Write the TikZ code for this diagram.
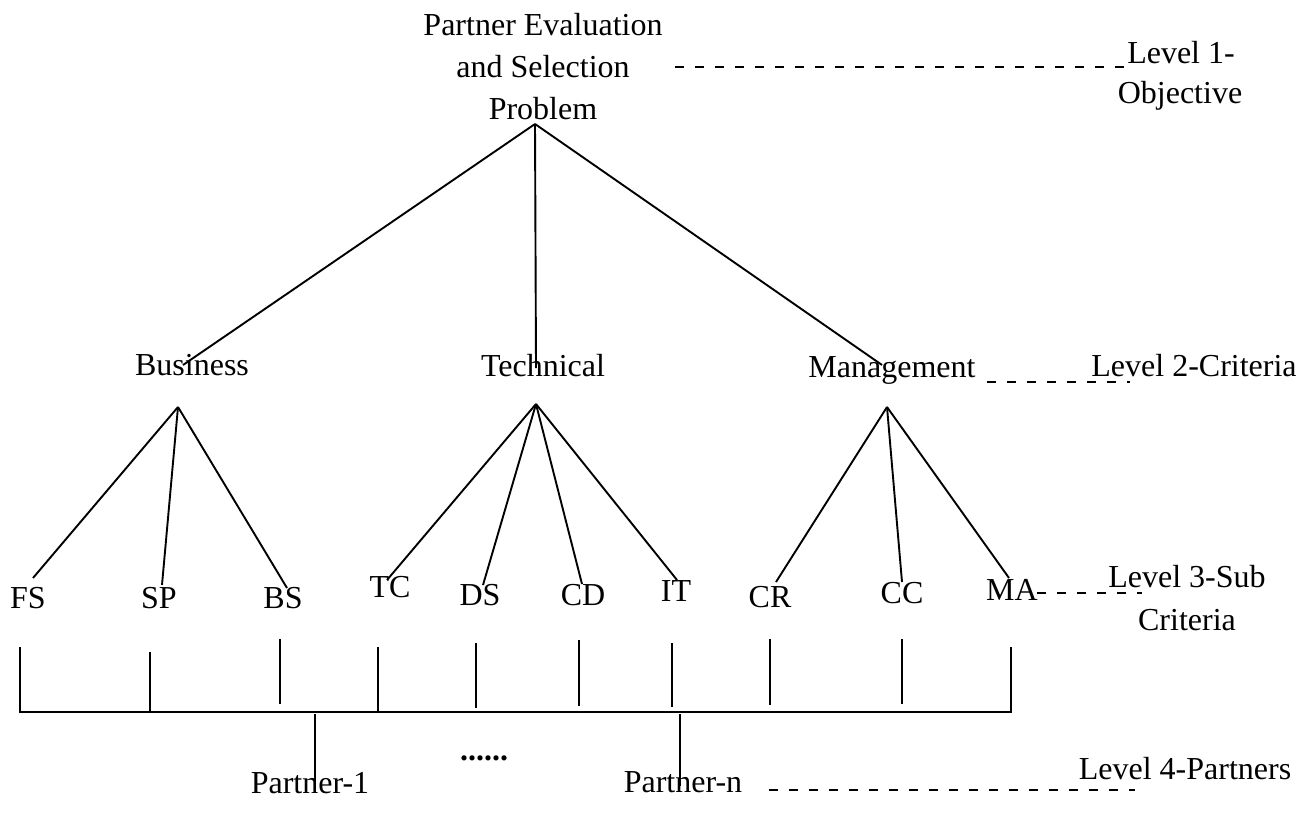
\documentclass[tikz,border=0pt]{standalone}
\usepackage{fontspec}
\setmainfont{Liberation Serif}
\begin{document}
\begin{tikzpicture}[x=1pt,y=-1pt,
  lbl/.style={anchor=base,inner sep=0pt,font=\fontsize{32}{40}\selectfont},
  link/.style={line width=1.9pt},
  guide/.style={line width=2.6pt,dash pattern=on 9pt off 11pt},
]
\useasboundingbox (0,0) rectangle (1308,838);

% Level 1: objective
\node[lbl] (t1) at (543,35) {Partner Evaluation};
\node[lbl] (t2) at (543,77) {and Selection};
\node[lbl] (t3) at (543,119) {Problem};
\node[lbl] (l1a) at (1181,63) {Level 1-};
\node[lbl] (l1b) at (1180,103) {Objective};

% Level 2: criteria
\node[lbl] (bus) at (192,375) {Business};
\node[lbl] (tec) at (543,376) {Technical};
\node[lbl] (man) at (892,377) {Management};
\node[lbl] (l2) at (1194,376) {Level 2-Criteria};

% Level 3: sub-criteria
\node[lbl] (fs) at (28,608) {FS};
\node[lbl] (sp) at (159,608) {SP};
\node[lbl] (bs) at (283,608) {BS};
\node[lbl] (tc) at (390,597) {TC};
\node[lbl] (ds) at (480,605) {DS};
\node[lbl] (cd) at (583,605) {CD};
\node[lbl] (it) at (676,601) {IT};
\node[lbl] (cr) at (770,607) {CR};
\node[lbl] (cc) at (902,603) {CC};
\node[lbl] (ma) at (1012,600) {MA};
\node[lbl] (l3a) at (1187,587) {Level 3-Sub};
\node[lbl] (l3b) at (1187,630) {Criteria};

% Level 4: partners
\node[lbl] (p1) at (310,793) {Partner-1};
\node[lbl] (dots) at (484,760) {\bfseries ......};
\node[lbl] (pn) at (683,792) {Partner-n};
\node[lbl] (l4) at (1185,779) {Level 4-Partners};

% branch points and line ends
\coordinate (rootTip) at (535,124);
\coordinate (busIn) at (183,365);
\coordinate (tecIn) at (536,368);
\coordinate (manIn) at (882,365);
\coordinate (busTip) at (178,407);
\coordinate (tecTip) at (536,404);
\coordinate (manTip) at (887,407);
\coordinate (fsIn) at (33,578);
\coordinate (spIn) at (162,585);
\coordinate (bsIn) at (287,588);
\coordinate (tcIn) at (387,580);
\coordinate (dsIn) at (483,585);
\coordinate (cdIn) at (582,584);
\coordinate (itIn) at (677,580);
\coordinate (crIn) at (776,582);
\coordinate (ccIn) at (902,582);
\coordinate (maIn) at (1009,578);

% objective to criteria
\draw[link] (rootTip) -- (busIn);
\draw[link] (rootTip) -- (tecIn);
\draw[link] (rootTip) -- (manIn);

% criteria to sub-criteria
\draw[link] (busTip) -- (fsIn);
\draw[link] (busTip) -- (spIn);
\draw[link] (busTip) -- (bsIn);
\draw[link] (tecTip) -- (tcIn);
\draw[link] (tecTip) -- (dsIn);
\draw[link] (tecTip) -- (cdIn);
\draw[link] (tecTip) -- (itIn);
\draw[link] (manTip) -- (crIn);
\draw[link] (manTip) -- (ccIn);
\draw[link] (manTip) -- (maIn);

% sub-criteria drops onto the partner bar
\coordinate (barL) at (20,712);
\coordinate (barR) at (1011,712);
\draw[link] (20,647) -- (barL) -- (barR) -- (1011,647);
\coordinate (vSP) at (150,652);
\coordinate (vBS) at (280,639);
\coordinate (vTC) at (378,647);
\coordinate (vDS) at (476,643);
\coordinate (vCD) at (579,640);
\coordinate (vIT) at (672,643);
\coordinate (vCR) at (770,639);
\coordinate (vCC) at (902,639);
\draw[link] (vSP) -- (150,712);
\draw[link] (vBS) -- (280,704);
\draw[link] (vTC) -- (378,711);
\draw[link] (vDS) -- (476,708);
\draw[link] (vCD) -- (579,706);
\draw[link] (vIT) -- (672,707);
\draw[link] (vCR) -- (770,705);
\draw[link] (vCC) -- (902,704);

% bar to partners
\coordinate (p1Top) at (315,714);
\coordinate (p1In) at (315,788);
\coordinate (pnTop) at (680,714);
\coordinate (pnIn) at (680,786);
\draw[link] (p1Top) -- (p1In);
\draw[link] (pnTop) -- (pnIn);

% dashed level guides
\coordinate (g1) at (675,67);
\draw[guide] (g1) -- (g1 -| l1a.west);
\coordinate (g2) at (987,382);
\draw[guide] (g2) -- (1130,382);
\coordinate (g3) at (1037,593);
\draw[guide] (g3) -- (1142,593);
\coordinate (g4) at (769,790);
\draw[guide] (g4) -- (1135,790);
\end{tikzpicture}
\end{document}
